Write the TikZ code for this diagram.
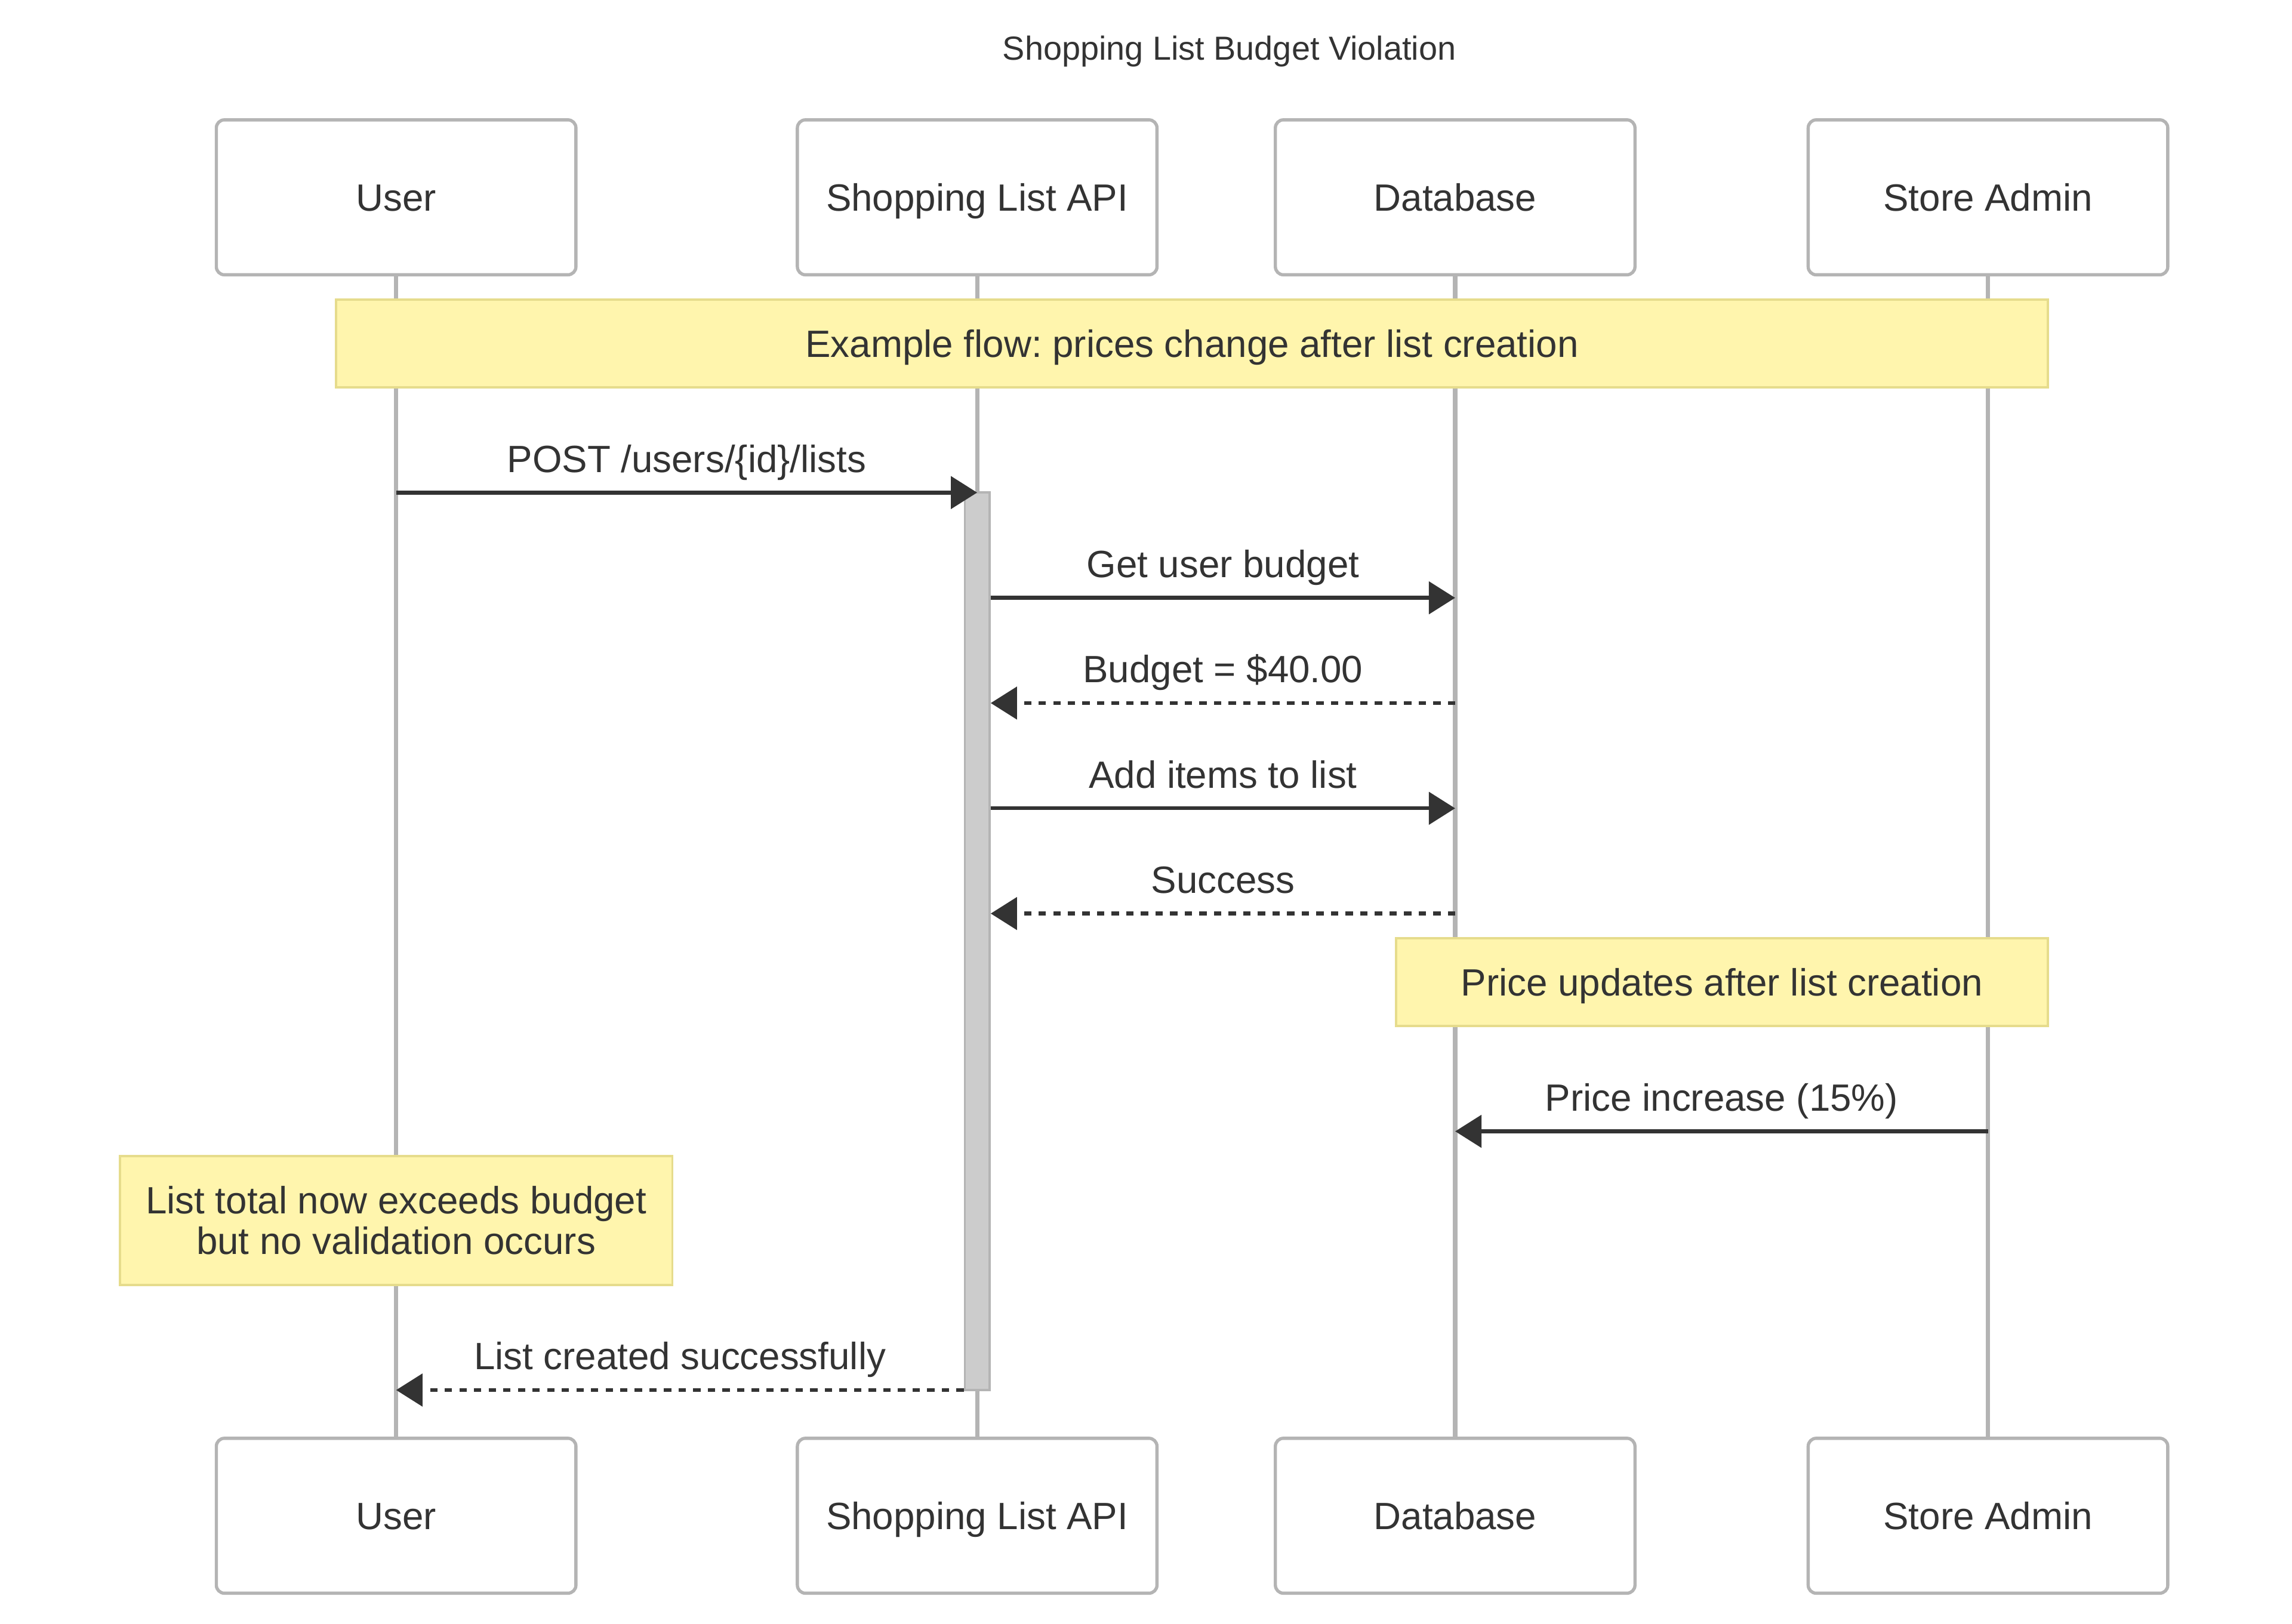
\documentclass[tikz,border=0pt]{standalone}
\usepackage{fontspec}
\setmainfont{Liberation Sans}
\usepackage{tikz}
\usetikzlibrary{arrows.meta,positioning}
\frenchspacing
\definecolor{inkgray}{RGB}{51,51,51}
\definecolor{lifegray}{RGB}{180,180,180}
\definecolor{notefill}{RGB}{255,245,173}
\definecolor{noteedge}{RGB}{230,220,140}
\definecolor{actfill}{RGB}{204,204,204}

\begin{document}
\begin{tikzpicture}[x=1pt,y=-1pt,
  actor/.style={draw=lifegray, line width=2.2pt, fill=white, rounded corners=5.5pt,
    minimum width=246pt, minimum height=106pt, text height=18.6pt, text depth=0pt,
    font=\fontsize{26}{28}\selectfont, text=inkgray},
  note/.style={draw=noteedge, line width=1.5pt, fill=notefill, align=center,
    font=\fontsize{26}{28}\selectfont, text=inkgray},
  life/.style={draw=lifegray, line width=2.9pt},
  msg/.style={draw=inkgray, line width=2.6pt, -{Triangle[length=18pt,width=22pt]}},
  reply/.style={msg, dash pattern=on 5pt off 5pt},
  lbl/.style={midway, anchor=base, yshift=14pt, font=\fontsize{26}{28}\selectfont, text=inkgray}]
\useasboundingbox (0,0) rectangle (1568,1111);

% Title
\node[anchor=base, font=\fontsize{22.8}{26}\selectfont, text=inkgray] (title) at (841,41) {Shopping List Budget Violation};

% Actors, top and bottom
\node[actor] (userT) at (271,135) {User};
\node[actor] (apiT) at (668.5,135) {Shopping List API};
\node[actor] (dbT) at (995.5,135) {Database};
\node[actor] (adminT) at (1360,135) {Store Admin};
\node[actor] (userB) at (271,1037) {User};
\node[actor] (apiB) at (668.5,1037) {Shopping List API};
\node[actor] (dbB) at (995.5,1037) {Database};
\node[actor] (adminB) at (1360,1037) {Store Admin};

% Lifelines
\foreach \who in {user,api,db,admin}
  \draw[life] (\who T.south) -- (\who B.north);

% Notes
\node[note, minimum width=1171pt, minimum height=60pt, text height=18.6pt, text depth=0pt] (flow) at (815.5,235) {Example flow: prices change after list creation};
\node[note, minimum width=446pt, minimum height=60pt, text height=18.6pt, text depth=0pt] (update) at (1178,672) {Price updates after list creation};
\node[note, minimum width=378pt, minimum height=88pt] (warn) at (271,835) {List total now exceeds budget\\but no validation occurs};

% Activation of the API
\node[draw=lifegray, line width=1.5pt, fill=actfill, minimum width=17pt, minimum height=614pt, inner sep=0pt] (act) at (668.5,644) {};

% Message end points
\coordinate (u1) at (userT |- 0,337);
\coordinate (a1) at (apiT |- 0,337);
\coordinate (a2) at (act.east |- 0,409);
\coordinate (d2) at (dbT |- 0,409);
\coordinate (a3) at (act.east |- 0,481);
\coordinate (d3) at (dbT |- 0,481);
\coordinate (a4) at (act.east |- 0,553);
\coordinate (d4) at (dbT |- 0,553);
\coordinate (a5) at (act.east |- 0,625);
\coordinate (d5) at (dbT |- 0,625);
\coordinate (s6) at (adminT |- 0,774);
\coordinate (d6) at (dbT |- 0,774);
\coordinate (a7) at (act.west |- 0,951);
\coordinate (u7) at (userT |- 0,951);

% Messages
\draw[msg] (u1) -- node[lbl] (m1) {POST /users/\{id\}/lists} (a1);
\draw[msg] (a2) -- node[lbl] (m2) {Get user budget} (d2);
\draw[reply] (d3) -- node[lbl] (m3) {Budget = \$40.00} (a3);
\draw[msg] (a4) -- node[lbl] (m4) {Add items to list} (d4);
\draw[reply] (d5) -- node[lbl] (m5) {Success} (a5);
\draw[msg] (s6) -- node[lbl] (m6) {Price increase (15\%)} (d6);
\draw[reply] (a7) -- node[lbl] (m7) {List created successfully} (u7);
\end{tikzpicture}
\end{document}
